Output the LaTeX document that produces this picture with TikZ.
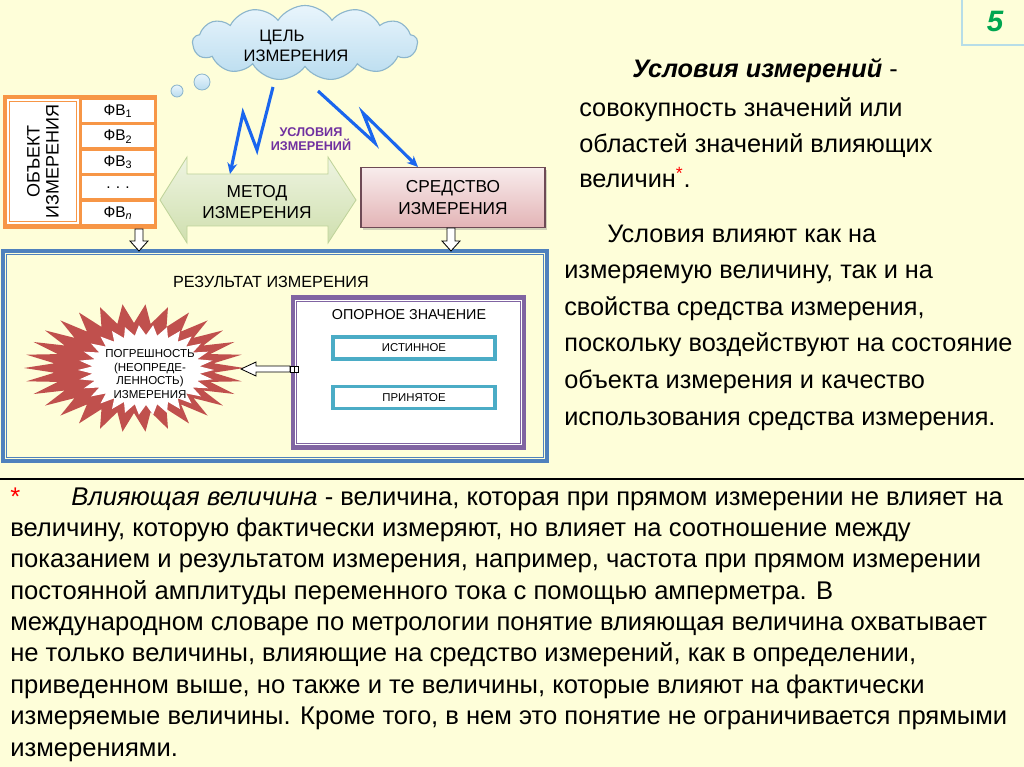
\documentclass[tikz,border=0pt]{standalone}
\usepackage{fontspec}
\setmainfont{Liberation Sans}
\usetikzlibrary{arrows.meta,positioning,shapes.symbols,shadows,calc}
\definecolor{BgCream}{HTML}{FEFED9}
\definecolor{NumFrame}{HTML}{B7DDE8}
\definecolor{NumGreen}{HTML}{00A650}
\definecolor{CloudTop}{HTML}{E9F5FC}
\definecolor{CloudBot}{HTML}{B9DCEF}
\definecolor{CloudLine}{HTML}{8DB6CC}
\definecolor{ObjOrange}{HTML}{F79646}
\definecolor{ZigBlue}{HTML}{1A66EE}
\definecolor{CondPurple}{HTML}{7030A0}
\definecolor{MethodTop}{HTML}{EEF4E1}
\definecolor{MethodBot}{HTML}{CFDFAE}
\definecolor{MethodLine}{HTML}{BFD39A}
\definecolor{ToolTop}{HTML}{F8ECEC}
\definecolor{ToolBot}{HTML}{E3B4B6}
\definecolor{ToolLine}{HTML}{6E4A55}
\definecolor{FrameBlue}{HTML}{4F81BD}
\definecolor{RefPurple}{HTML}{8064A2}
\definecolor{CellCyan}{HTML}{4BACC6}
\definecolor{StarRed}{HTML}{C0504D}
\newlength{\pxu}
\setlength{\pxu}{0.025cm}

\begin{document}
\begin{tikzpicture}[x=0.025cm, y=-0.025cm,
  every node/.style={inner sep=0pt},
  cell/.style={fill=white, minimum width=72\pxu, minimum height=22\pxu, font=\fontsize{11}{12}\selectfont},
  valbox/.style={draw=CellCyan, line width=2.2pt, fill=white, minimum width=162\pxu, minimum height=22\pxu, font=\fontsize{8.1}{9}\selectfont},
  zigzag/.style={draw=ZigBlue, line width=2.2pt, -{Stealth[length=7.8pt, width=7pt]}},
  hollow/.style={draw=black, fill=white, line width=0.6pt},
  caps/.style={align=center, font=\fontsize{12.3}{15}\selectfont},
  bodytext/.style={anchor=base west, align=left}
]
\fill[BgCream] (0,0) rectangle (1024,767);
\useasboundingbox (0,0) rectangle (1024,767);

% slide number
\draw[NumFrame, line width=2pt] (962,-2) -- (962,45) -- (1026,45);
\node[text=NumGreen, font=\fontsize{21}{24}\bfseries\itshape\selectfont] (slideno) at (995,21) {5};

% goal cloud
\node[cloud, cloud puffs=13, cloud puff arc=115, aspect=2.8, draw=CloudLine, line width=0.8pt,
  top color=CloudTop, bottom color=CloudBot, minimum width=225\pxu, minimum height=75\pxu] (goal) at (305,43) {};
\node[caps, font=\fontsize{11.8}{14}\selectfont] (goaltext) at (296,46) {ЦЕЛЬ\hspace*{28\pxu}\\ИЗМЕРЕНИЯ};
\draw[CloudLine, top color=CloudTop, bottom color=CloudBot, line width=0.6pt] (202,82) circle[radius=8];
\draw[CloudLine, top color=CloudTop, bottom color=CloudBot, line width=0.6pt] (177,91) circle[radius=6];

% object of measurement
\fill[ObjOrange] (3,95) rectangle (157,229);
\node[fill=white, minimum width=72\pxu, minimum height=125\pxu] (objname) at (43,161.5) {};
\draw[ObjOrange, line width=0.6pt] ($(objname.south west)+(3,-3)$) rectangle ($(objname.north east)+(-3,3)$);
\node[rotate=90, caps, font=\fontsize{12.8}{13.5}\selectfont] (objtext) at (objname) {ОБЪЕКТ\\ИЗМЕРЕНИЯ};
\foreach \lbl [count=\i] in {ФВ\textsubscript{1}, ФВ\textsubscript{2}, ФВ\textsubscript{3}, .\,\,.\,\,., ФВ\textsubscript{\itshape n}}
  \node[cell] (fv\i) at (118,{85.5+25.5*\i}) {\lbl};

% method (double arrow)
\draw[MethodLine, line width=0.6pt, top color=MethodTop, bottom color=MethodBot]
  (160,200) -- (187,157) -- (187,174) -- (328,174) -- (328,157) -- (356,200)
  -- (328,243) -- (328,226) -- (187,226) -- (187,243) -- cycle;
\node[caps] (method) at (257,202) {МЕТОД\\ИЗМЕРЕНИЯ};

% instrument
\node[caps, draw=ToolLine, line width=0.8pt, top color=ToolTop, bottom color=ToolBot,
  minimum width=184\pxu, minimum height=60\pxu,
  drop shadow={shadow xshift=1.5pt, shadow yshift=-1.5pt, opacity=0.35}] (tool) at (453,197.5) {СРЕДСТВО\\ИЗМЕРЕНИЯ};

% conditions
\coordinate (goalleft) at (273,87);
\coordinate (goalright) at (318,91);
\coordinate (methodin) at (230,174);
\coordinate (toolin) at (418,167);
\draw[zigzag] (goalleft) -- (257,150) -- (243,113) -- (methodin);
\draw[zigzag] (goalright) -- (375,143) -- (363,113) -- (toolin);
\node[align=center, text=CondPurple, font=\fontsize{9}{10}\bfseries\selectfont] (cond) at (311,139) {УСЛОВИЯ\\ИЗМЕРЕНИЙ};

% result
\node[draw=FrameBlue, line width=3pt, minimum width=544\pxu, minimum height=210\pxu] (result) at (275,356) {};
\draw[FrameBlue, line width=0.8pt] ($(result.south west)+(6,-6)$) rectangle ($(result.north east)+(-6,6)$);
\node[font=\fontsize{11.5}{13}\selectfont] (restitle) at (271,282) {РЕЗУЛЬТАТ ИЗМЕРЕНИЯ};

% block arrows down
\coordinate (objout) at (139,229);
\coordinate (toolout) at (451,228);
\draw[hollow] (objout) ++(-4,0) -- ++(0,12) -- ++(-5,0) -- ++(9,10) -- ++(9,-10) -- ++(-5,0) -- ++(0,-12) -- cycle;
\draw[hollow] (toolout) ++(-4,0) -- ++(0,13) -- ++(-5,0) -- ++(9,10) -- ++(9,-10) -- ++(-5,0) -- ++(0,-13) -- cycle;

% reference value
\node[draw=RefPurple, line width=3pt, fill=white, minimum width=231\pxu, minimum height=150\pxu] (refbox) at (408.5,372.5) {};
\draw[RefPurple, line width=0.8pt] ($(refbox.south west)+(6,-6)$) rectangle ($(refbox.north east)+(-6,6)$);
\node[font=\fontsize{10.2}{12}\selectfont] (reftitle) at (409,315) {ОПОРНОЕ ЗНАЧЕНИЕ};
\node[valbox] (truev) at (414,348) {ИСТИННОЕ};
\node[valbox] (acceptv) at (414,397.5) {ПРИНЯТОЕ};

% error star
\fill[StarRed, shift={(134,368)}] (0:110 and 64)
  \foreach \k [evaluate=\k as \a using \k*12] in {0,...,29} { -- (\a:110 and 64) -- (\a+6:80 and 45) } -- cycle;
\fill[white, shift={(146,370)}] (0:68 and 45)
  \foreach \k [evaluate=\k as \a using \k*12] in {0,...,29} { -- (\a:68 and 45) -- (\a+6:54 and 35) } -- cycle;
\node[align=center, font=\fontsize{8.2}{9.6}\selectfont] (errtext) at (150,374) {ПОГРЕШНОСТЬ\\(НЕОПРЕДЕ-\\ЛЕННОСТЬ)\\ИЗМЕРЕНИЯ};
\coordinate (errtail) at (290,369);
\draw[hollow] (errtail) ++(0,-3) -- ++(-34,0) -- ++(0,-4) -- ++(-15,7) -- ++(15,7) -- ++(0,-4) -- ++(34,0) -- cycle;
\draw[hollow] (errtail) ++(0,-3) rectangle ++(4,6) ++(0,-6) rectangle ++(4,6);

% right column
\node[bodytext, font=\fontsize{18}{25.3}\bfseries\itshape\selectfont] (defn) at (632,78) {Условия измерений \textmd{\upshape -}};
\node[bodytext, font=\fontsize{18}{25.3}\selectfont] (defbody) at (579,188) {совокупность значений или\\областей значений влияющих\\величин\textcolor{red}{\textsuperscript{*}}.};
\node[bodytext, font=\fontsize{18}{26}\selectfont] (influence) at (564,425) {\hspace*{43\pxu}Условия влияют как на\\измеряемую величину, так и на\\свойства средства измерения,\\поскольку воздействуют на состояние\\объекта измерения и качество\\использования средства измерения.};

% footnote
\draw[black, line width=1.5pt] (0,479) -- (1024,479);
\node[bodytext, font=\fontsize{18.2}{22.3}\selectfont] (footnote) at (10,756) {\makebox[61\pxu][l]{\textcolor{red}{*}}\textit{Влияющая величина} - величина, которая при прямом измерении не влияет на\\
величину, которую фактически измеряют, но влияет на соотношение между\\
показанием и результатом измерения, например, частота при прямом измерении\\
постоянной амплитуды переменного тока с помощью амперметра. В\\
международном словаре по метрологии понятие влияющая величина охватывает\\
не только величины, влияющие на средство измерений, как в определении,\\
приведенном выше, но также и те величины, которые влияют на фактически\\
измеряемые величины. Кроме того, в нем это понятие не ограничивается прямыми\\
измерениями.};
\end{tikzpicture}
\end{document}
